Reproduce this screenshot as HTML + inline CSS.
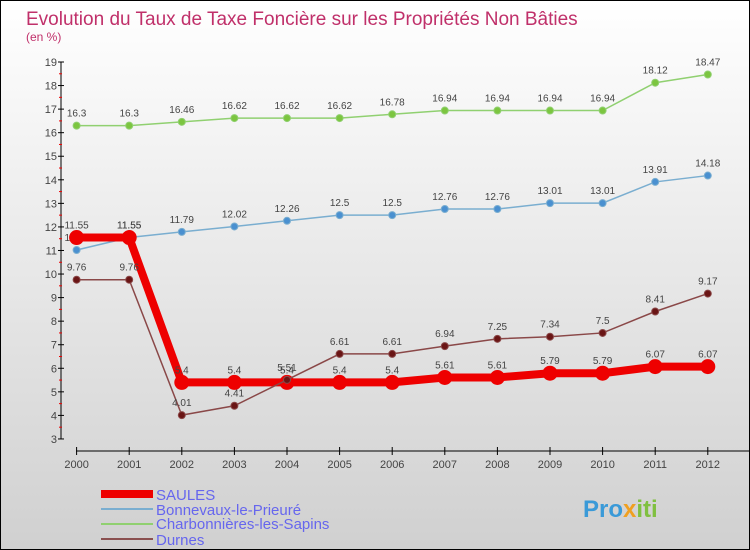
<!DOCTYPE html>
<html><head><meta charset="utf-8"><style>
body{margin:0}
#c{width:750px;height:550px;position:relative;box-sizing:border-box;border:1px solid #000;background:linear-gradient(#ffffff,#d0d0d0);font-family:"Liberation Sans",sans-serif;overflow:hidden}
</style></head><body>
<div id="c">
<svg id="s" width="750" height="550" style="position:absolute;left:0;top:0">
<text x="25" y="24" font-size="19" fill="#c0306a">Evolution du Taux de Taxe Foncière sur les Propriétés Non Bâties</text>
<text x="25" y="40" font-size="12" fill="#c0306a">(en %)</text>
<g id="axes"></g><g id="series"></g>
<g>
<rect x="100" y="489" width="52" height="8" fill="#e00"/>
<text x="155" y="499" font-size="15" fill="#6666ee">SAULES</text>
<rect x="100" y="507" width="52" height="2" fill="#7aaed0"/>
<text x="155" y="514" font-size="15" fill="#6666ee">Bonnevaux-le-Prieuré</text>
<rect x="100" y="522" width="52" height="2" fill="#90d070"/>
<text x="155" y="528" font-size="15" fill="#6666ee">Charbonnières-les-Sapins</text>
<rect x="100" y="537" width="52" height="2" fill="#8a5050"/>
<text x="155" y="544" font-size="15" fill="#6666ee">Durnes</text>
</g>
<text x="582" y="516" font-size="24" font-weight="bold" fill="#3a9ad8">Pro<tspan fill="#f0a020">x</tspan><tspan fill="#80c040">iti</tspan></text>
</svg>
</div>
<script>
const years=[2000,2001,2002,2003,2004,2005,2006,2007,2008,2009,2010,2011,2012];
const saules=[11.55,11.55,5.4,5.4,5.4,5.4,5.4,5.61,5.61,5.79,5.79,6.07,6.07];
const bonnevaux=[11.02,11.55,11.79,12.02,12.26,12.5,12.5,12.76,12.76,13.01,13.01,13.91,14.18];
const charbonnieres=[16.3,16.3,16.46,16.62,16.62,16.62,16.78,16.94,16.94,16.94,16.94,18.12,18.47];
const durnes=[9.76,9.76,4.01,4.41,5.51,6.61,6.61,6.94,7.25,7.34,7.5,8.41,9.17];
const yTicks=[3,4,5,6,7,8,9,10,11,12,13,14,15,16,17,18,19];
const NS="http://www.w3.org/2000/svg";
const X=i=>75.6+i*52.6;
const Y=v=>61+(19-v)*23.56;
function mk(tag,at,parent){const e=document.createElementNS(NS,tag);for(const k in at)e.setAttribute(k,at[k]);parent.appendChild(e);return e;}
const ax=document.getElementById('axes');
let e=mk('line',{x1:60,y1:Y(19),x2:60,y2:Y(3),stroke:'#000'},ax);


e=mk('line',{x1:75,y1:450,x2:750,y2:450,stroke:'#000'},ax);


yTicks.forEach(v=>{
 mk('line',{x1:57,y1:Y(v),x2:63,y2:Y(v),stroke:'#000'},ax);
 if(v<19)mk('line',{x1:58,y1:Y(v+0.5),x2:61,y2:Y(v+0.5),stroke:'#e00'},ax);
 const t=mk('text',{x:56,y:Y(v)+4,'font-size':11,fill:'#444','text-anchor':'end'},ax);t.textContent=v;
 
 
});
years.forEach((y,i)=>{
 mk('line',{x1:X(i),y1:446,x2:X(i),y2:454,stroke:'#000'},ax);
 const t=mk('text',{x:X(i),y:467,'font-size':11,fill:'#444','text-anchor':'middle'},ax);t.textContent=y;
 
 
});
const sg=document.getElementById('series');
function draw(name,vals,color,w,r,fill){
 const g=mk('g',{},sg);
 
 
 mk('polyline',{points:vals.map((v,i)=>X(i)+','+Y(v)).join(' '),fill:'none',stroke:color,'stroke-width':w},g);
 vals.forEach((v,i)=>{
  const c=mk('circle',{cx:X(i),cy:Y(v),r:r,fill:fill,stroke:color,'stroke-width':1},g);
  
  
  const t=mk('text',{x:X(i),y:Y(v)-9,'font-size':10,fill:'#444','text-anchor':'middle'},g);
  t.textContent=v;
  
  
 });
}
draw('charbonnieres',charbonnieres,'#90d070',1.5,3.5,'#7cc540');
draw('bonnevaux',bonnevaux,'#7aaed0',1.5,3.5,'#4a90d0');
draw('saules',saules,'#ee0000',8,7,'#ee0000');
draw('durnes',durnes,'#8a4848',1.5,3.5,'#6a1515');
</script>
</body></html>
